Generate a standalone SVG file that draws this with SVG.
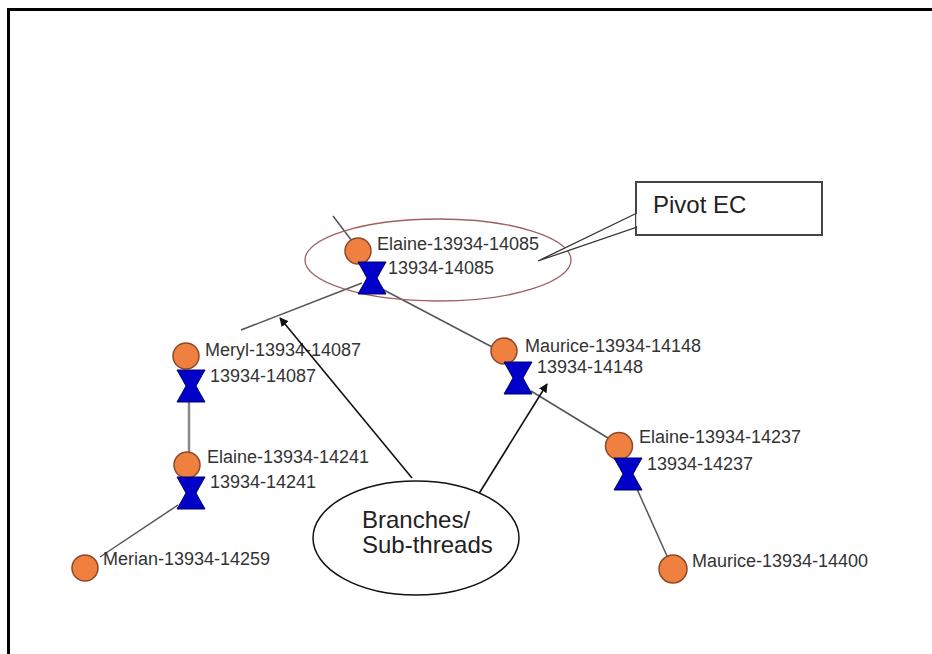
<svg xmlns="http://www.w3.org/2000/svg" width="932" height="654" viewBox="0 0 932 654">
<defs>
<style>
.lbl{font-family:"Liberation Sans",Arial,sans-serif;font-size:18px;fill:#333}
.big{font-family:"Liberation Sans",Arial,sans-serif;font-size:24px;fill:#222}
.ec{fill:#f08040;stroke:#8a4a2a;stroke-width:1.5}
.hg{fill:#0000c8;stroke:#00006a;stroke-width:1}
.edge{stroke:#555;stroke-width:1.5;fill:none}
.edge2{stroke:#888;stroke-width:2.5;fill:none}
.ann{stroke:#111;stroke-width:1.6;fill:none}
</style>
<symbol id="hourglass" overflow="visible">
<polygon class="hg" points="-14,-16 14,-16 10,-9 5,0 10,9 14,16 -14,16 -10,9 -5,0 -10,-9"/>
</symbol>
<marker id="arr" viewBox="0 0 10 10" refX="9" refY="5" markerWidth="9" markerHeight="9" markerUnits="userSpaceOnUse" orient="auto">
<path d="M0,0 L10,5 L0,10 z" fill="#111"/>
</marker>
</defs>
<rect x="0" y="0" width="932" height="654" fill="#fff"/>
<path d="M8.5,654 V9.5 H932" fill="none" stroke="#000" stroke-width="3"/>

<g id="connectors">
<line class="edge" x1="333" y1="216" x2="352" y2="241"/>
<line class="edge" x1="362" y1="283" x2="241" y2="330"/>
<line class="edge" x1="382" y1="289" x2="494" y2="348"/>
<line class="edge2" x1="189" y1="402" x2="189" y2="453"/>
<line class="edge" x1="178" y1="505" x2="100" y2="557"/>
<line class="edge" x1="531" y1="391" x2="608" y2="438"/>
<line class="edge" x1="637" y1="489" x2="667" y2="556"/>
</g>

<g id="pivot-highlight">
<ellipse cx="438" cy="260" rx="133" ry="41" fill="none" stroke="#a06060" stroke-width="1.3"/>
</g>

<g id="n-elaine-14085">
<circle class="ec" cx="358" cy="251" r="13"/>
<use href="#hourglass" x="372" y="278"/>
<text class="lbl" x="377" y="250">Elaine-13934-14085</text>
<text class="lbl" x="388" y="274">13934-14085</text>
</g>

<g id="n-meryl-14087">
<circle class="ec" cx="186" cy="356" r="13"/>
<use href="#hourglass" x="191" y="386"/>
<text class="lbl" x="205" y="356">Meryl-13934-14087</text>
<text class="lbl" x="210" y="382">13934-14087</text>
</g>

<g id="n-elaine-14241">
<circle class="ec" cx="187" cy="465" r="13"/>
<use href="#hourglass" x="191" y="493"/>
<text class="lbl" x="207" y="463">Elaine-13934-14241</text>
<text class="lbl" x="210" y="488">13934-14241</text>
</g>

<g id="n-merian-14259">
<circle class="ec" cx="85" cy="568" r="13"/>
<text class="lbl" x="103" y="565">Merian-13934-14259</text>
</g>

<g id="n-maurice-14148">
<circle class="ec" cx="504" cy="351" r="13"/>
<use href="#hourglass" x="518" y="378"/>
<text class="lbl" x="525" y="352">Maurice-13934-14148</text>
<text class="lbl" x="537" y="373">13934-14148</text>
</g>

<g id="n-elaine-14237">
<circle class="ec" cx="619" cy="446" r="13.5"/>
<use href="#hourglass" x="628" y="474"/>
<text class="lbl" x="639" y="443">Elaine-13934-14237</text>
<text class="lbl" x="647" y="470">13934-14237</text>
</g>

<g id="n-maurice-14400">
<circle class="ec" cx="673" cy="569" r="14"/>
<text class="lbl" x="692" y="567">Maurice-13934-14400</text>
</g>

<g id="callout-pivot">
<polygon points="637,213 538,261 637,227" fill="#fff" stroke="#333" stroke-width="1.3"/>
<rect x="636" y="182" width="186" height="53" fill="#fff" stroke="#444" stroke-width="2"/>
<line x1="637" y1="214" x2="637" y2="226" stroke="#fff" stroke-width="1.5"/>
<text class="big" x="653" y="213">Pivot EC</text>
</g>

<g id="branches">
<line class="ann" x1="412" y1="478" x2="280" y2="318" marker-end="url(#arr)"/>
<line class="ann" x1="475" y1="500" x2="547" y2="384" marker-end="url(#arr)"/>
<ellipse cx="416" cy="538" rx="103" ry="57" fill="#fff" stroke="#111" stroke-width="1.5"/>
<text class="big" x="362" y="528">Branches/</text>
<text class="big" x="362" y="553">Sub-threads</text>
</g>
</svg>
